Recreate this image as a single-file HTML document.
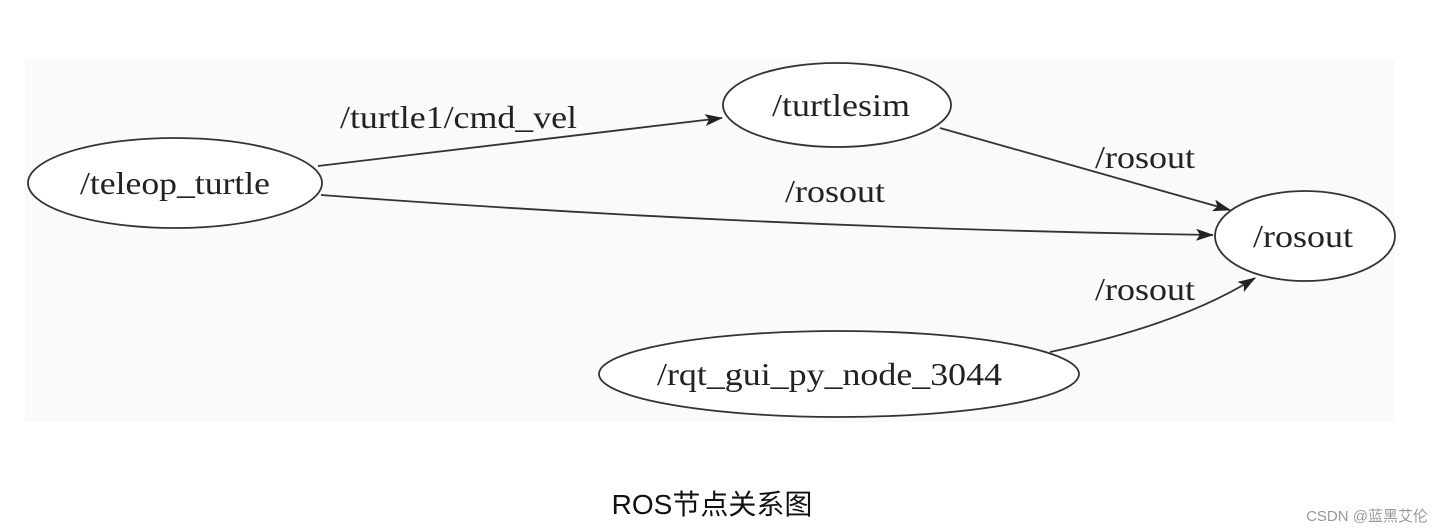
<!DOCTYPE html>
<html><head><meta charset="utf-8"><style>
html,body{margin:0;padding:0;background:#fff;width:1442px;height:532px;overflow:hidden}
</style></head><body>
<svg width="1442" height="532" xmlns="http://www.w3.org/2000/svg">
<defs><marker id="a" markerWidth="18" markerHeight="12" refX="17" refY="6" orient="auto" markerUnits="userSpaceOnUse"><path d="M0,0 L18,6 L0,12 L4,6 Z" fill="#222"/></marker></defs>
<rect x="25" y="60" width="1370" height="362" fill="#fafafa"/>
<g fill="#fff" stroke="#333" stroke-width="1.8">
<ellipse cx="175" cy="183" rx="147" ry="45"/>
<ellipse cx="837" cy="105" rx="114" ry="42"/>
<ellipse cx="1305" cy="236" rx="90" ry="45"/>
<ellipse cx="839" cy="374" rx="240" ry="43"/>
</g>
<g fill="none" stroke="#333" stroke-width="1.8" marker-end="url(#a)">
<path d="M318,166 L722,118"/>
<path d="M321,195 Q760,228 1213,235"/>
<path d="M940,128 L1230,210"/>
<path d="M1050,352 Q1180,325 1255,278"/>
</g>
<g font-family="Liberation Serif, serif" font-size="32" fill="#222">
<text x="80" y="194" textLength="190" lengthAdjust="spacingAndGlyphs">/teleop_turtle</text>
<text x="772" y="116" textLength="138" lengthAdjust="spacingAndGlyphs">/turtlesim</text>
<text x="1253" y="247" textLength="100" lengthAdjust="spacingAndGlyphs">/rosout</text>
<text x="657" y="385" textLength="345" lengthAdjust="spacingAndGlyphs">/rqt_gui_py_node_3044</text>
<text x="340" y="128" textLength="237" lengthAdjust="spacingAndGlyphs">/turtle1/cmd_vel</text>
<text x="785" y="202" textLength="100" lengthAdjust="spacingAndGlyphs">/rosout</text>
<text x="1095" y="168" textLength="100" lengthAdjust="spacingAndGlyphs">/rosout</text>
<text x="1095" y="300" textLength="100" lengthAdjust="spacingAndGlyphs">/rosout</text>
</g>
<text x="712" y="514" text-anchor="middle" font-family="Liberation Sans, Noto Sans CJK SC, sans-serif" font-size="28" fill="#111">ROS节点关系图</text>
<text x="1428" y="521" text-anchor="end" font-family="Liberation Sans, Noto Sans CJK SC, sans-serif" font-size="15" fill="#999">CSDN @蓝黑艾伦</text>
</svg>
</body></html>
